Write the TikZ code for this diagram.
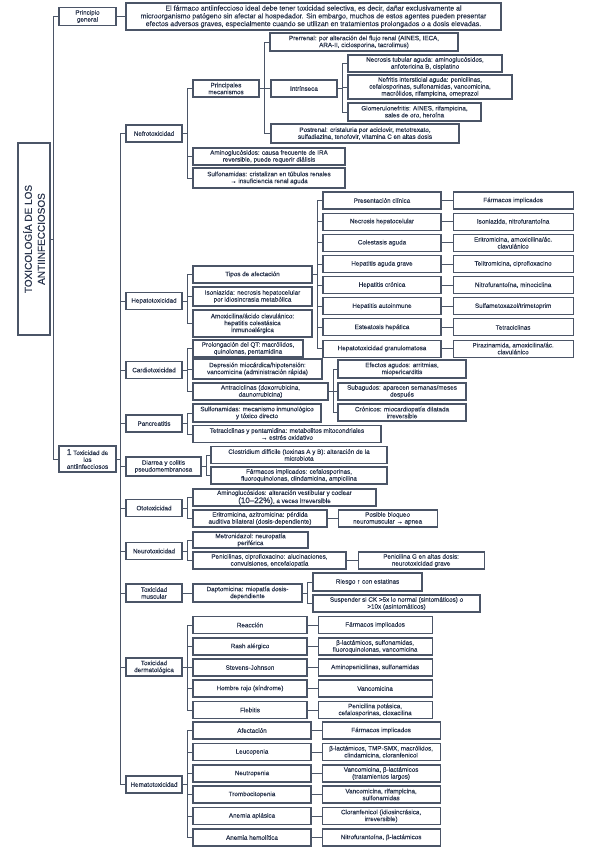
\documentclass[tikz,border=0pt]{standalone}
\usepackage{fontspec}
\setmainfont{Liberation Sans}[FakeBold=0.25]
\usetikzlibrary{positioning}
\definecolor{inkline}{HTML}{4B5567}
\definecolor{inktext}{HTML}{29344C}
\newcommand\cellfont{\fontsize{6.3}{6.9}\selectfont}
\newcommand\leadfont{\fontsize{7}{7.8}\selectfont}
\newcommand\maptitlefont{\fontsize{10}{13}\selectfont}
\begin{document}
\begin{tikzpicture}[x=1pt, y=-1pt,
    box/.style={draw=inkline, line width=1.1pt, fill=white, text=inktext,
                align=center, inner sep=1.2pt, font=\cellfont},
    cat/.style={box, minimum width=56pt, minimum height=17pt},
    hleft/.style={box, minimum width=118pt, minimum height=17pt},
    hright/.style={box, minimum width=120pt, minimum height=17pt},
    dleft/.style={box, minimum width=114pt, minimum height=17pt},
    dright/.style={box, minimum width=114pt, minimum height=17pt},
    eleft/.style={box, minimum width=118pt, minimum height=17pt},
    eright/.style={box, minimum width=118pt, minimum height=17pt},
    link/.style={draw=inkline, line width=0.9pt},
    node distance=11pt
]
    \useasboundingbox (0,0) rectangle (599,848);

    % titulo y principio general
    \node[box, rotate=90, minimum width=192pt, minimum height=32pt,
          font=\maptitlefont] (titulo) at (34,239) {TOXICOLOGÍA DE LOS\\ANTIINFECCIOSOS};
    \node[box, minimum width=57pt, minimum height=18pt] (pg) at (87.5,16.5) {Principio\\general};
    \node[box, minimum width=375pt, minimum height=27pt, font=\leadfont] (pgtxt) at (313.5,16.5)
        {El fármaco antiinfeccioso ideal debe tener toxicidad selectiva, es decir, dañar exclusivamente al\\
         microorganismo patógeno sin afectar al hospedador. Sin embargo, muchos de estos agentes pueden presentar\\
         efectos adversos graves, especialmente cuando se utilizan en tratamientos prolongados o a dosis elevadas.};
    \node[box, minimum width=57pt, minimum height=26pt] (tox) at (87.5,459)
        {{\fontsize{8.5}{8.5}\selectfont 1} Toxicidad de\\los\\antiinfecciosos};

    % tipos de toxicidad
    \node[cat] (nefro) at (154,133.5) {Nefrotoxicidad};
    \node[cat] (hepato) at (154,301) {Hepatotoxicidad};
    \node[cat] (cardio) at (154,370) {Cardiotoxicidad};
    \node[cat] (pancr) at (154,423.5) {Pancreatitis};
    \node[cat, minimum width=75pt, minimum height=19pt] (diarrea) at (163.5,466.5) {Diarrea y colitis\\pseudomembranosa};
    \node[cat] (oto) at (154,508) {Ototoxicidad};
    \node[cat] (neuro) at (154,551) {Neurotoxicidad};
    \node[cat, minimum height=18pt] (muscular) at (154,593) {Toxicidad\\muscular};
    \node[cat, minimum height=18pt] (derma) at (154,667) {Toxicidad\\dermatológica};
    \node[cat] (hemato) at (154,784.5) {Hematotoxicidad};

    % nefrotoxicidad
    \node[box, minimum width=66pt, minimum height=17pt] (mecan) at (226,88.5) {Principales\\mecanismos};
    \node[box, minimum width=152pt, minimum height=17pt] (amino) at (269,156.5)
        {Aminoglucósidos: causa frecuente de IRA\\reversible, puede requerir diálisis};
    \node[box, minimum width=152pt, minimum height=20pt] (sulfa) at (269,178)
        {Sulfonamidas: cristalizan en túbulos renales\\→ insuficiencia renal aguda};
    \node[box, minimum width=188pt, minimum height=18pt] (prerrenal) at (364,42)
        {Prerrenal: por alteración del flujo renal (AINES, IECA,\\ARA-II, ciclosporina, tacrolimus)};
    \node[box, minimum width=66pt, minimum height=17pt] (intrins) at (304,88.5) {Intrínseca};
    \node[box, minimum width=188pt, minimum height=19pt] (postrenal) at (365,133.5)
        {Postrenal: cristaluria por aciclovir, metotrexato,\\sulfadiazina, tenofovir, vitamina C en altas dosis};
    \node[box, minimum width=154pt, minimum height=17pt] (ntubular) at (425,63.5)
        {Necrosis tubular aguda: aminoglucósidos,\\anfotericina B, cisplatino};
    \node[box, minimum width=164pt, minimum height=24pt] (nintersticial) at (430,87)
        {Nefritis intersticial aguda: penicilinas,\\cefalosporinas, sulfonamidas, vancomicina,\\macrólidos, rifampicina, omeprazol};
    \node[box, minimum width=133pt, minimum height=18pt] (glomerulo) at (414.5,112)
        {Glomerulonefritis: AINES, rifampicina,\\sales de oro, heroína};

    % hepatotoxicidad
    \node[box, minimum width=119pt, minimum height=17pt] (tipos) at (252.5,274.5) {Tipos de afectación};
    \node[box, minimum width=119pt, minimum height=19pt] (isoniazida) at (252.5,296.5)
        {Isoniazida: necrosis hepatocelular\\por idiosincrasia metabólica};
    \node[box, minimum width=119pt, minimum height=27pt] (amoxi) at (252.5,323.5)
        {Amoxicilina/ácido clavulánico:\\hepatitis colestásica\\inmunoalérgica};
    \node[hleft] (h1) at (382,200.5) {Presentación clínica};
    \node[hright, right=of h1] (f1) {Fármacos implicados};
    \node[hleft] (h2) at (382,221.65) {Necrosis hepatocelular};
    \node[hright, right=of h2] (f2) {Isoniazida, nitrofurantoína};
    \node[hleft] (h3) at (382,242.8) {Colestasis aguda};
    \node[hright, right=of h3] (f3) {Eritromicina, amoxicilina/ác.\\clavulánico};
    \node[hleft] (h4) at (382,263.95) {Hepatitis aguda grave};
    \node[hright, right=of h4] (f4) {Telitromicina, ciprofloxacino};
    \node[hleft] (h5) at (382,285.1) {Hepatitis crónica};
    \node[hright, right=of h5] (f5) {Nitrofurantoína, minociclina};
    \node[hleft] (h6) at (382,306.25) {Hepatitis autoinmune};
    \node[hright, right=of h6] (f6) {Sulfametoxazol/trimetoprim};
    \node[hleft] (h7) at (382,327.4) {Esteatosis hepática};
    \node[hright, right=of h7] (f7) {Tetraciclinas};
    \node[hleft] (h8) at (382,348.55) {Hepatotoxicidad granulomatosa};
    \node[hright, right=of h8] (f8) {Pirazinamida, amoxicilina/ác.\\clavulánico};

    % cardiotoxicidad
    \node[box, minimum width=110pt, minimum height=17pt] (qt) at (248,348.5)
        {Prolongación del QT: macrólidos,\\quinolonas, pentamidina};
    \node[box, minimum width=129pt, minimum height=20pt] (depresion) at (257.5,369)
        {Depresión miocárdica/hipotensión:\\vancomicina (administración rápida)};
    \node[box, minimum width=135pt, minimum height=17pt] (antra) at (260.5,391.5)
        {Antraciclinas (doxorrubicina,\\daunorrubicina)};
    \node[box, minimum width=128pt, minimum height=18pt] (agudos) at (402,369)
        {Efectos agudos: arritmias,\\miopericarditis};
    \node[box, minimum width=128pt, minimum height=17pt] (subagudos) at (402,391.5)
        {Subagudos: aparecen semanas/meses\\después};
    \node[box, minimum width=128pt, minimum height=17pt] (cronicos) at (402,412.5)
        {Crónicos: miocardiopatía dilatada\\irreversible};

    % pancreatitis
    \node[box, minimum width=128pt, minimum height=18pt] (sulfapan) at (257,413)
        {Sulfonamidas: mecanismo inmunológico\\y tóxico directo};
    \node[box, minimum width=188pt, minimum height=17pt] (tetra) at (287,434)
        {Tetraciclinas y pentamidina: metabolitos mitocondriales\\→ estrés oxidativo};

    % diarrea
    \node[box, minimum width=176pt, minimum height=17pt] (clostri) at (299,455)
        {Clostridium difficile (toxinas A y B): alteración de la\\microbiota};
    \node[box, minimum width=176pt, minimum height=17pt] (fdiarrea) at (299,475.5)
        {Fármacos implicados: cefalosporinas,\\fluoroquinolonas, clindamicina, ampicilina};

    % ototoxicidad
    \node[box, minimum width=183pt, minimum height=17pt] (aminooto) at (284.5,497.5)
        {Aminoglucósidos: alteración vestibular y coclear\\{\fontsize{8}{8}\selectfont (10–22\%)}, a veces irreversible};
    \node[box, minimum width=134pt, minimum height=17pt] (eritro) at (260,518.5)
        {Eritromicina, azitromicina: pérdida\\auditiva bilateral (dosis-dependiente)};
    \node[box, minimum width=99pt, minimum height=17pt, right=10pt of eritro] (bloqueo)
        {Posible bloqueo\\neuromuscular → apnea};

    % neurotoxicidad
    \node[box, minimum width=115pt, minimum height=16pt] (metro) at (250.5,540)
        {Metronidazol: neuropatía\\periférica};
    \node[box, minimum width=153pt, minimum height=17pt] (penic) at (269.5,560.5)
        {Penicilinas, ciprofloxacino: alucinaciones,\\convulsiones, encefalopatía};
    \node[box, minimum width=126pt, minimum height=17pt, right=of penic] (penicg)
        {Penicilina G en altas dosis:\\neurotoxicidad grave};

    % toxicidad muscular
    \node[box, minimum width=109pt, minimum height=18pt] (dapto) at (247.5,593)
        {Daptomicina: miopatía dosis-\\dependiente};
    \node[box, minimum width=109pt, minimum height=18pt] (riesgo) at (367.5,582) {Riesgo ↑ con estatinas};
    \node[box, minimum width=167pt, minimum height=17pt] (suspender) at (396.5,603.5)
        {Suspender si CK >5x lo normal (sintomáticos) o\\>10x (asintomáticos)};

    % toxicidad dermatologica
    \node[dleft] (d1) at (250,625) {Reacción};
    \node[dright, right=10pt of d1] (g1) {Fármacos implicados};
    \node[dleft] (d2) at (250,646.5) {Rash alérgico};
    \node[dright, right=10pt of d2] (g2) {β-lactámicos, sulfonamidas,\\fluoroquinolonas, vancomicina};
    \node[dleft] (d3) at (250,667.5) {Stevens-Johnson};
    \node[dright, right=10pt of d3] (g3) {Aminopenicilinas, sulfonamidas};
    \node[dleft] (d4) at (250,688.5) {Hombre rojo (síndrome)};
    \node[dright, right=10pt of d4] (g4) {Vancomicina};
    \node[dleft] (d5) at (250,710) {Flebitis};
    \node[dright, right=10pt of d5] (g5) {Penicilina potásica,\\cefalosporinas, cloxacilina};

    % hematotoxicidad
    \node[eleft] (e1) at (252,730.5) {Afectación};
    \node[eright, right=10pt of e1] (k1) {Fármacos implicados};
    \node[eleft] (e2) at (252,752) {Leucopenia};
    \node[eright, right=10pt of e2] (k2) {β-lactámicos, TMP-SMX, macrólidos,\\clindamicina, cloranfenicol};
    \node[eleft] (e3) at (252,773.5) {Neutropenia};
    \node[eright, right=10pt of e3] (k3) {Vancomicina, β-lactámicos\\(tratamientos largos)};
    \node[eleft] (e4) at (252,794.5) {Trombocitopenia};
    \node[eright, right=10pt of e4] (k4) {Vancomicina, rifampicina,\\sulfonamidas};
    \node[eleft] (e5) at (252,816) {Anemia aplásica};
    \node[eright, right=10pt of e5] (k5) {Cloranfenicol (idiosincrásica,\\irreversible)};
    \node[eleft] (e6) at (252,837.5) {Anemia hemolítica};
    \node[eright, right=10pt of e6] (k6) {Nitrofurantoína, β-lactámicos};

    % conectores
    \draw[link] (titulo.south) -- ++(3,0) |- (pg.west);
    \draw[link] (titulo.south) -- ++(3,0) |- (tox.west);
    \draw[link] (pg.east) -- (pgtxt.west);
    \foreach \c in {nefro,hepato,cardio,pancr,diarrea,oto,neuro,muscular,derma,hemato}
        \draw[link] (tox.east) -- ++(4,0) |- (\c.west);
    \foreach \c in {mecan,amino,sulfa}
        \draw[link] (nefro.east) -- ++(5,0) |- (\c.west);
    \foreach \c in {prerrenal,intrins,postrenal}
        \draw[link] (mecan.east) -- ++(5,0) |- (\c.west);
    \foreach \c in {ntubular,nintersticial,glomerulo}
        \draw[link] (intrins.east) -- ++(5,0) |- (\c.west);
    \foreach \c in {tipos,isoniazida,amoxi}
        \draw[link] (hepato.east) -- ++(5,0) |- (\c.west);
    \foreach \i in {1,...,8} {
        \draw[link] (tipos.east) -- ++(5,0) |- (h\i.west);
        \draw[link] (h\i.east) -- (f\i.west);
    }
    \foreach \c in {qt,depresion,antra}
        \draw[link] (cardio.east) -- ++(5,0) |- (\c.west);
    \foreach \c in {agudos,subagudos,cronicos}
        \draw[link] (antra.east) -- ++(5,0) |- (\c.west);
    \foreach \c in {sulfapan,tetra}
        \draw[link] (pancr.east) -- ++(5,0) |- (\c.west);
    \foreach \c in {clostri,fdiarrea}
        \draw[link] (diarrea.east) -- ++(5,0) |- (\c.west);
    \foreach \c in {aminooto,eritro}
        \draw[link] (oto.east) -- ++(5,0) |- (\c.west);
    \draw[link] (eritro.east) -- (bloqueo.west);
    \foreach \c in {metro,penic}
        \draw[link] (neuro.east) -- ++(5,0) |- (\c.west);
    \draw[link] (penic.east) -- (penicg.west);
    \draw[link] (muscular.east) -- (dapto.west);
    \foreach \c in {riesgo,suspender}
        \draw[link] (dapto.east) -- ++(5,0) |- (\c.west);
    \foreach \i in {1,...,5} {
        \draw[link] (derma.east) -- ++(5,0) |- (d\i.west);
        \draw[link] (d\i.east) -- (g\i.west);
    }
    \foreach \i in {1,...,6} {
        \draw[link] (hemato.east) -- ++(5,0) |- (e\i.west);
        \draw[link] (e\i.east) -- (k\i.west);
    }
\end{tikzpicture}
\end{document}
